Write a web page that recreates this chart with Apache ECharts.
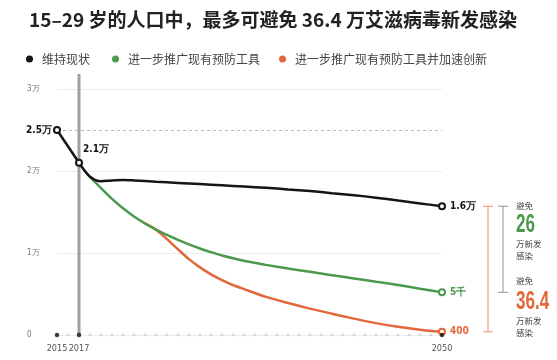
<!DOCTYPE html>
<html><head><meta charset="utf-8">
<script src="https://cdn.jsdelivr.net/npm/echarts@6/dist/echarts.min.js"></script>
<style>html,body{margin:0;padding:0;background:#fff}#c{width:557px;height:360px}</style>
</head><body><div id="c"></div>
<script>
const titleText = '15–29 岁的人口中，最多可避免 36.4 万艾滋病毒新发感染';
const seriesNames = ['维持现状', '进一步推广现有预防工具', '进一步推广现有预防工具并加速创新'];
const colors = ['#151515', '#4b9a4b', '#e2683b'];
// 维持现状: 2015-2017 straight segment
const statusHeadYears = [2015, 2017];
const statusHeadVals = [2.5, 2.1];
// 维持现状 from 2017 on
const statusYears = [2017, 2018, 2019, 2020, 2021, 2022, 2024, 2026, 2028, 2030, 2032, 2034, 2036, 2038, 2040, 2042, 2044, 2046, 2048, 2050];
const statusVals  = [2.1, 1.93, 1.875, 1.885, 1.89, 1.885, 1.87, 1.855, 1.84, 1.825, 1.81, 1.795, 1.775, 1.755, 1.73, 1.705, 1.675, 1.64, 1.605, 1.57];
// 进一步推广现有预防工具
const greenYears = [2018, 2019, 2020, 2021, 2022, 2023, 2024, 2025, 2026, 2027, 2028, 2029, 2030, 2032, 2034, 2036, 2038, 2040, 2042, 2044, 2046, 2048, 2050];
const greenVals  = [1.93, 1.79, 1.66, 1.545, 1.445, 1.36, 1.285, 1.22, 1.16, 1.105, 1.055, 1.01, 0.97, 0.905, 0.855, 0.81, 0.77, 0.73, 0.69, 0.65, 0.61, 0.565, 0.52];
// 进一步推广现有预防工具并加速创新
const orangeYears = [2023, 2024, 2025, 2026, 2027, 2028, 2029, 2030, 2031, 2032, 2034, 2036, 2038, 2040, 2042, 2044, 2046, 2048, 2050];
const orangeVals  = [1.36, 1.285, 1.17, 1.045, 0.925, 0.825, 0.74, 0.67, 0.61, 0.56, 0.465, 0.39, 0.322, 0.26, 0.2, 0.145, 0.1, 0.065, 0.04];
const yTicks = [0, 1, 2, 3];
const yTickLabels = ['0', '1万', '2万', '3万'];
const xTickYears = [2015, 2017, 2050];
const startLabel = '2.5万';
const midLabel = '2.1万';
const endLabels = ['1.6万', '5千', '400'];
const avoidGreen = '26';
const avoidOrange = '36.4';

const narrow = "'DejaVu Sans Condensed','Liberation Sans Narrow','Liberation Sans',sans-serif";
const cjk = "'Noto Sans CJK SC',sans-serif";

function withEnd(xs, ys, label, color) {
  return xs.map((x, i) => {
    if (i === xs.length - 1) {
      return { value: [x, ys[i]], symbol: 'emptyCircle',
        label: { show: true, position: 'right', distance: 4, formatter: label, color: color,
          fontFamily: narrow, fontSize: 10, fontWeight: 'bold' } };
    }
    return { value: [x, ys[i]], symbol: 'none' };
  });
}
const allYears = [];
for (let y = 2015; y <= 2050; y++) allYears.push(y);

const legendLefts = [21, 107, 274];
const chart = echarts.init(document.getElementById('c'));
const option = {
  backgroundColor: '#fff',
  animation: false,
  title: { text: titleText, left: 24, top: 5,
    textStyle: { fontFamily: cjk, fontSize: 19, fontWeight: 'bold', color: '#222' } },
  legend: seriesNames.map((n, i) => ({
    left: legendLefts[i], top: 48, itemWidth: 7, itemHeight: 7, icon: 'circle',
    data: [n],
    textStyle: { fontFamily: cjk, fontSize: 12, color: '#444', padding: [0, 0, 0, 4] }
  })),
  grid: { left: 57, right: 115, top: 89, bottom: 25 },
  xAxis: {
    type: 'value', min: 2015, max: 2050, interval: 1,
    axisLine: { show: false }, axisTick: { show: false }, splitLine: { show: false },
    axisLabel: { margin: 9, fontFamily: narrow, fontSize: 9, color: '#555',
      formatter: v => xTickYears.indexOf(v) >= 0 ? String(v) : '' }
  },
  yAxis: {
    type: 'value', min: 0, max: 3, interval: 1,
    axisLine: { show: false }, axisTick: { show: false },
    splitLine: { lineStyle: { color: '#ececec', width: 1 } },
    axisLabel: { align: 'left', margin: 30, fontFamily: narrow, fontSize: 8, color: '#777',
      formatter: v => yTickLabels[yTicks.indexOf(v)] }
  },
  series: [
    { name: 'axisDots', type: 'scatter', silent: true, z: 1,
      data: allYears.map(y => [y, 0]), symbolSize: 3, itemStyle: { color: '#d0d0d0' } },
    { name: 'axisKeyDots', type: 'scatter', silent: true, z: 6,
      data: xTickYears.map(y => [y, 0]), symbolSize: 4.5, itemStyle: { color: '#111' } },
    { name: seriesNames[2], type: 'line', z: 2, smooth: 0.3, color: colors[2],
      data: withEnd(orangeYears, orangeVals, endLabels[2], colors[2]),
      symbolSize: 6, lineStyle: { width: 2.5, color: colors[2] },
      itemStyle: { color: colors[2], borderWidth: 1.5 } },
    { name: seriesNames[1], type: 'line', z: 3, smooth: 0.3, color: colors[1],
      data: withEnd(greenYears, greenVals, endLabels[1], colors[1]),
      symbolSize: 6, lineStyle: { width: 2.5, color: colors[1] },
      itemStyle: { color: colors[1], borderWidth: 1.5 } },
    { name: seriesNames[0], type: 'line', z: 5, smooth: false, color: colors[0],
      data: statusHeadYears.map((x, i) => ({ value: [x, statusHeadVals[i]], symbol: 'emptyCircle',
        label: i === 1 ? { show: true, position: [8, -14], formatter: midLabel, color: '#111',
          fontFamily: narrow, fontSize: 10, fontWeight: 'bold' } : { show: false } })),
      symbolSize: 6, lineStyle: { width: 2.5, color: colors[0] },
      itemStyle: { color: colors[0], borderWidth: 1.5 },
      markLine: { silent: true, symbol: 'none',
        lineStyle: { type: [3, 3], color: '#b8b8b8', width: 1 },
        label: { position: 'start', distance: 5, formatter: startLabel, color: '#111',
          fontFamily: narrow, fontSize: 10, fontWeight: 'bold' },
        data: [{ yAxis: statusHeadVals[0] }] } },
    { name: seriesNames[0], type: 'line', z: 4, smooth: 0.3, color: colors[0],
      data: withEnd(statusYears, statusVals, endLabels[0], '#111'),
      symbolSize: 6, lineStyle: { width: 2.5, color: colors[0] },
      itemStyle: { color: colors[0], borderWidth: 1.5 } }
  ]
};
chart.setOption(option);

const P = (x, y) => chart.convertToPixel({ gridIndex: 0 }, [x, y]);
const base2017 = P(2017, 0);
const top2017 = P(2017, 3);
const yStatusEnd = P(2050, statusVals[statusVals.length - 1])[1];
const yGreenEnd = P(2050, greenVals[greenVals.length - 1])[1];
const yOrangeEnd = P(2050, orangeVals[orangeVals.length - 1])[1];
const bxO = 488, bxG = 503, tx = 516;
function bracket(x, y1, y2, color) {
  return [
    { type: 'line', shape: { x1: x, y1: y1, x2: x, y2: y2 }, style: { stroke: color, lineWidth: 1.2 } },
    { type: 'line', shape: { x1: x - 5, y1: y1, x2: x + 5, y2: y1 }, style: { stroke: color, lineWidth: 1.2 } },
    { type: 'line', shape: { x1: x - 5, y1: y2, x2: x + 5, y2: y2 }, style: { stroke: color, lineWidth: 1.2 } }
  ];
}
function txt(x, y, s, size, color, bold, fam, sx) {
  return { type: 'text', x: x, y: y, scaleX: sx || 1, style: { text: s, fill: color, fontSize: size,
    fontWeight: bold ? 'bold' : 'normal', fontFamily: fam || cjk, textVerticalAlign: 'middle' } };
}
chart.setOption({
  graphic: [
    { type: 'line', z: 0, shape: { x1: base2017[0], y1: base2017[1], x2: top2017[0], y2: top2017[1] - 15 },
      style: { stroke: '#a0a0a0', lineWidth: 3 } },
    ...bracket(bxO, yStatusEnd, yOrangeEnd, '#f0a585'),
    ...bracket(bxG, yStatusEnd, yGreenEnd, '#98ab9f'),
    txt(tx, yStatusEnd, '避免', 8.5, '#444'),
    txt(tx, yStatusEnd + 19, avoidGreen, 25, colors[1], true, "'Liberation Sans',sans-serif", 0.68),
    txt(tx, yStatusEnd + 38, '万新发', 8.5, '#444'),
    txt(tx, yStatusEnd + 50, '感染', 8.5, '#444'),
    txt(tx, yGreenEnd - 12, '避免', 8.5, '#444'),
    txt(tx, yGreenEnd + 10, avoidOrange, 25, colors[2], true, "'Liberation Sans',sans-serif", 0.68),
    txt(tx, yGreenEnd + 28, '万新发', 8.5, '#444'),
    txt(tx, yGreenEnd + 40, '感染', 8.5, '#444')
  ]
});
</script></body></html>
